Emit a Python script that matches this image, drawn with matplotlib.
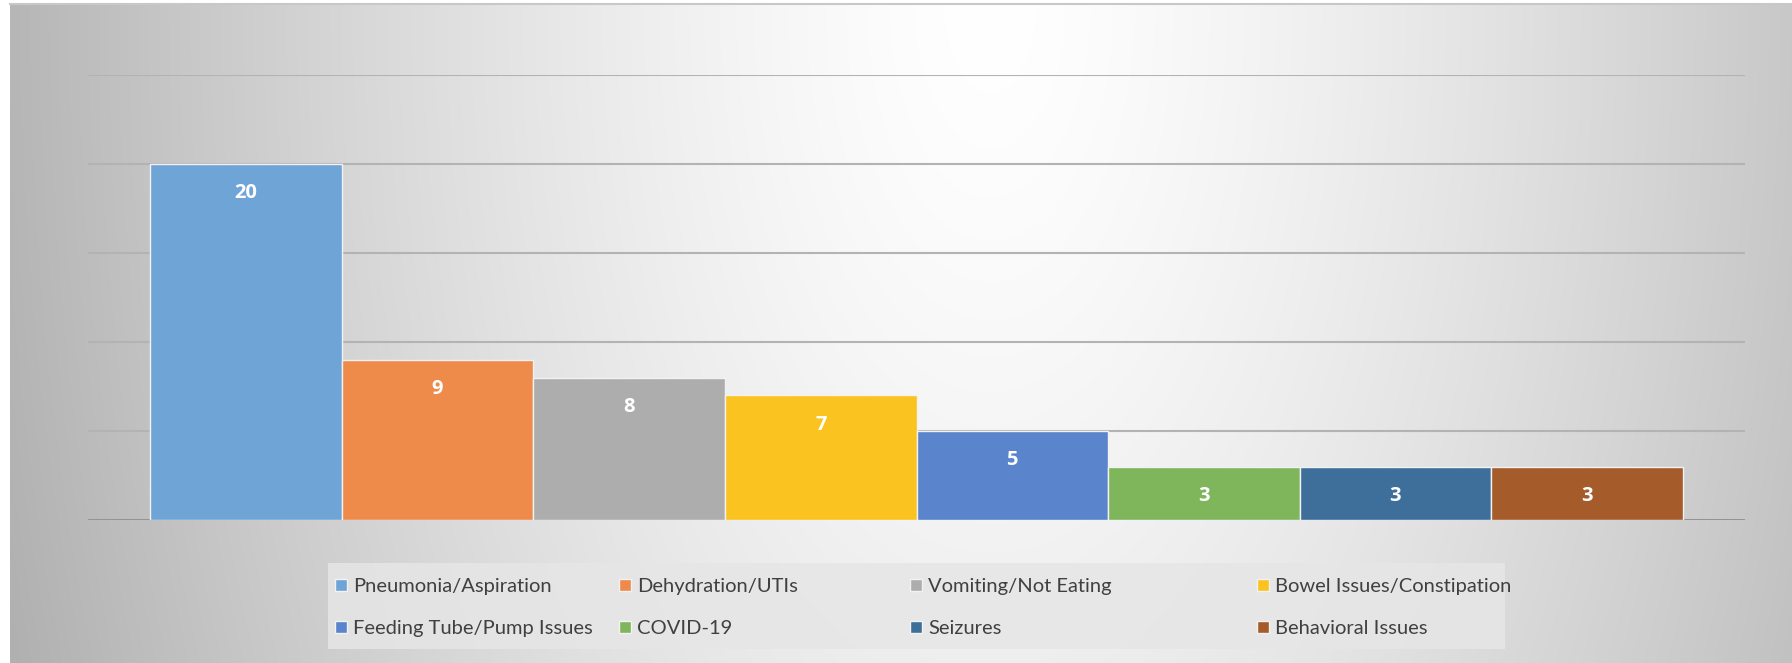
import numpy as np
import matplotlib
matplotlib.use('Agg')
import matplotlib.pyplot as plt
from matplotlib.patches import Rectangle

categories = ['Pneumonia/Aspiration', 'Dehydration/UTIs', 'Vomiting/Not Eating',
              'Bowel Issues/Constipation', 'Feeding Tube/Pump Issues', 'COVID-19',
              'Seizures', 'Behavioral Issues']
counts = [20, 9, 8, 7, 5, 3, 3, 3]
colors = ['#6fa4d7', '#ee8a4a', '#adadad', '#fbc31f',
          '#5a84cb', '#7fb55b', '#3e6f9a', '#a65b2a']

plt.rcParams['font.family'] = ['Lato', 'DejaVu Sans']

W, H = 1792, 663
fig = plt.figure(figsize=(W / 100, H / 100), dpi=100)

# background gradient
bg = fig.add_axes([10 / W, 0, 1 - 10 / W, 1 - 3 / H], zorder=-10)
gx, gy = np.meshgrid(np.linspace(0, 1, 400), np.linspace(0, 1, 150))
d = np.sqrt(((gx - 0.55) / 0.5) ** 2 + ((gy - 1.0) / 2.6) ** 2)
shade = 1.0 - 0.25 * np.clip(d, 0, 1.2) ** 1.4
bg.imshow(np.dstack([shade] * 3), extent=[0, 1, 0, 1], origin='lower',
          aspect='auto', interpolation='bilinear')
bg.axis('off')
fig.add_artist(plt.Line2D([10 / W, 1], [1 - 3.5 / H] * 2, color='#c8c8c8', lw=1.5))

ax = fig.add_axes([88 / W, 1 - 520 / H, (1745 - 88) / W, (520 - 75) / H])
ax.patch.set_alpha(0)
x = np.arange(len(counts))
bars = ax.bar(x, counts, width=1.0, color=colors, edgecolor='#f2f2f2',
              linewidth=1, zorder=3)
for b, c in zip(bars, counts):
    ax.text(b.get_x() + b.get_width() / 2, c - 1.65, str(c), ha='center', va='center',
            color='white', fontsize=14.5, fontweight='bold', zorder=4,
            family=['Open Sans', 'DejaVu Sans'])

ax.set_ylim(0, 25)
ax.set_xlim(-0.5 - 0.325, len(counts) - 0.5 + 0.325)
ax.set_yticks([0, 5, 10, 15, 20, 25])
ax.yaxis.grid(True, color='#b3b3b3', linewidth=1.5, zorder=0)
ax.axhline(0, color='#8a8a8a', linewidth=1.8, zorder=2)
ax.tick_params(left=False, bottom=False, labelleft=False, labelbottom=False)
for s in ax.spines.values():
    s.set_visible(False)

# legend: box plus four one-column legends, rows read left to right
fig.add_artist(Rectangle((328 / W, 1 - 649 / H), (1505 - 328) / W, 86 / H,
                         transform=fig.transFigure, facecolor='#e6e6e6',
                         edgecolor='none', alpha=0.85, zorder=1))
col_x = [331, 615, 906, 1253]
for j, cx in enumerate(col_x):
    idx = [j, j + 4]
    leg = fig.legend(handles=[bars[i] for i in idx], labels=[categories[i] for i in idx],
                     loc='upper left', bbox_to_anchor=(cx / W, 1 - 574 / H),
                     frameon=False, fontsize=14.5, borderaxespad=0, borderpad=0.2,
                     handlelength=0.6, handleheight=0.6, handletextpad=0.3,
                     labelspacing=1.25)
    leg.set_zorder(2)
    for t in leg.get_texts():
        t.set_color('#404040')

fig.savefig('out.png', dpi=100)
